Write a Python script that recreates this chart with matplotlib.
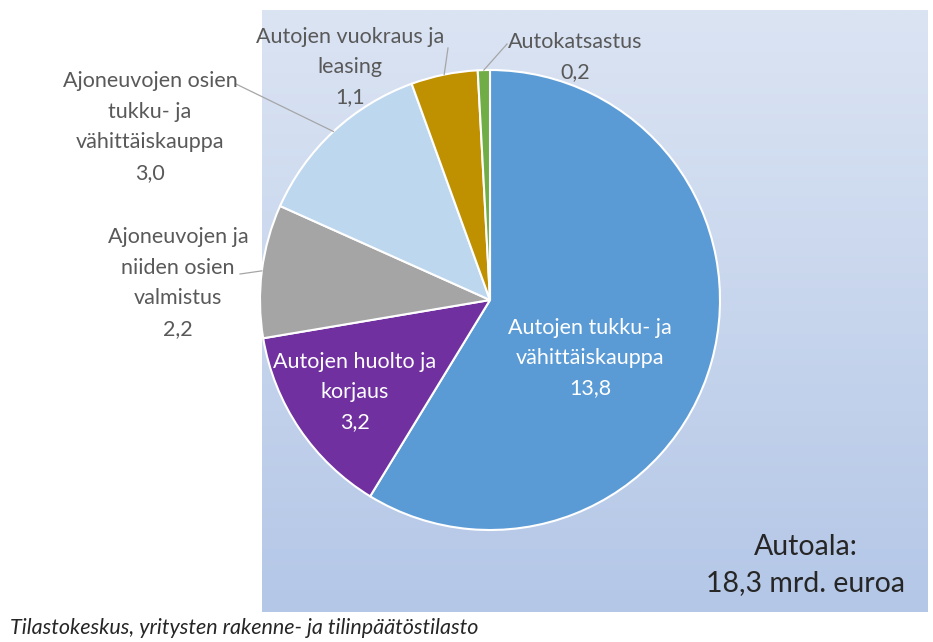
import numpy as np
import matplotlib
matplotlib.use("Agg")
import matplotlib.pyplot as plt

plt.rcParams['font.family'] = ['Lato', 'DejaVu Sans']

# Data (mrd. euroa), clockwise from the top
categories = [
    "Autojen tukku- ja\nvähittäiskauppa",
    "Autojen huolto ja\nkorjaus",
    "Ajoneuvojen ja\nniiden osien\nvalmistus",
    "Ajoneuvojen osien\ntukku- ja\nvähittäiskauppa",
    "Autojen vuokraus ja\nleasing",
    "Autokatsastus",
]
values = [13.8, 3.2, 2.2, 3.0, 1.1, 0.2]
value_labels = ["13,8", "3,2", "2,2", "3,0", "1,1", "0,2"]
colors = ["#5B9BD5", "#7030A0", "#A5A5A5", "#BDD7EE", "#BF9000", "#70AD47"]
total_text = "Autoala:\n18,3 mrd. euroa"
source_text = "Tilastokeskus, yritysten rakenne- ja tilinpäätöstilasto"

W, H = 933, 642
fig = plt.figure(figsize=(W / 100, H / 100), dpi=100)


def px_box(x0, y0, x1, y1):
    # pixel box (top-left origin) -> figure fraction rect
    return [x0 / W, 1 - y1 / H, (x1 - x0) / W, (y1 - y0) / H]


# gradient background panel
bg = fig.add_axes(px_box(262, 10, 928, 612))
top = np.array([219, 228, 243]) / 255
bot = np.array([180, 199, 231]) / 255
t = np.linspace(0, 1, 256)[:, None]
grad = top[None, :] * (1 - t) + bot[None, :] * t
bg.imshow(grad[:, None, :], aspect="auto", extent=[0, 1, 0, 1])
bg.axis("off")

# pie, centre (490,300), radius 230 px
CX, CY, R = 490, 300, 230
ax = fig.add_axes(px_box(CX - R, CY - R, CX + R, CY + R))
wedges, _ = ax.pie(values, colors=colors, startangle=90, counterclock=False,
                   radius=1, wedgeprops=dict(edgecolor="white", linewidth=1.5))
ax.set_xlim(-1, 1)
ax.set_ylim(-1, 1)
ax.axis("off")

lab_col = "#595959"
fs = 15.5
ls = 1.65


def to_data(px, py):
    return (px - CX) / R, (CY - py) / R


# inside labels
inside = {0: (590, 358), 1: (355, 392)}
for i, (px, py) in inside.items():
    x, y = to_data(px, py)
    ax.text(x, y, categories[i] + "\n" + value_labels[i], ha="center", va="center",
            color="white", fontsize=fs, linespacing=ls)

# outside labels with leader lines (label centre, leader start)
outside = {
    2: ((178, 283), (240, 274)),
    3: ((150, 127), (236, 84)),
    4: ((350, 67), (448, 48)),
    5: ((575, 57), (507, 44)),
}
for i, ((px, py), (sx, sy)) in outside.items():
    x, y = to_data(px, py)
    ax.text(x, y, categories[i] + "\n" + value_labels[i], ha="center", va="center",
            color=lab_col, fontsize=fs, linespacing=ls, clip_on=False)
    w = wedges[i]
    mid = np.deg2rad((w.theta1 + w.theta2) / 2)
    ex, ey = np.cos(mid), np.sin(mid)
    lx, ly = to_data(sx, sy)
    ax.plot([lx, ex], [ly, ey], color="#A6A6A6", lw=0.9, clip_on=False)

fig.text(806 / W, 1 - 565 / H, total_text, ha="center", va="center",
         fontsize=20.5, color="#262626", linespacing=1.45)
fig.text(10 / W, 1 - 628 / H, source_text, ha="left", va="center",
         fontsize=15.5, style="italic", color="#262626")

fig.savefig("out.png", dpi=100)
